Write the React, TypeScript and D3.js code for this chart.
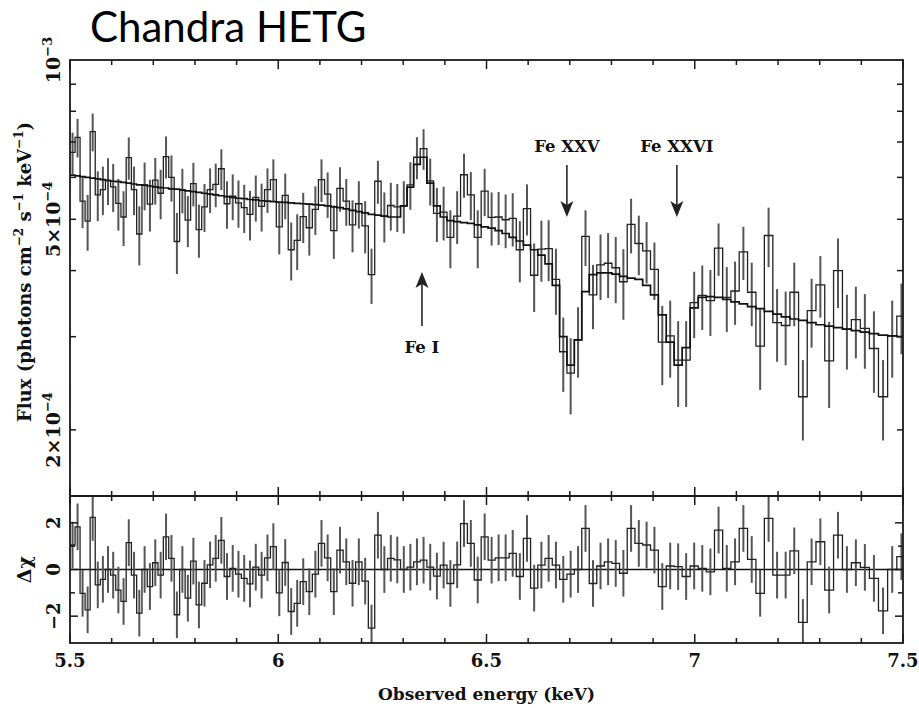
import React from 'react';
import * as d3 from 'd3';

// Spectral binning: constant wavelength bins (Angstrom), converted to keV
const HC = 12.3984;
const LAMBDA_START = 2.2542;
const LAMBDA_BIN = 0.0049;
const N_BINS = 123;

// Observed flux per bin (units of 1e-4 photons cm^-2 s^-1 keV^-1)
const flux = [
  6.69, 7.14, 5.41, 4.96, 7.32, 5.56, 5.69, 5.92, 5.76, 5.36,
  5.05, 6.54, 5.69, 4.69, 5.80, 5.34, 5.93, 5.60, 6.57, 6.00,
  4.54, 5.68, 4.98, 5.84, 4.78, 5.28, 5.69, 5.82, 6.23, 5.35,
  5.53, 5.37, 5.26, 5.11, 5.50, 5.29, 5.69, 5.94, 4.84, 5.55,
  4.38, 4.56, 5.06, 4.82, 5.22, 5.94, 5.58, 4.76, 5.72, 5.41,
  4.88, 5.35, 4.86, 3.93, 5.90, 5.07, 5.31, 5.28, 5.30, 5.81,
  6.55, 6.80, 5.91, 5.13, 5.16, 4.62, 5.07, 6.07, 5.56, 4.62,
  5.65, 5.04, 5.05, 4.99, 5.02, 4.38, 5.24, 3.92, 4.39, 4.40,
  3.85, 2.81, 2.56, 2.96, 4.64, 3.60, 4.10, 4.13, 4.05, 3.81,
  4.89, 4.50, 4.36, 4.02, 2.93, 3.01, 2.71, 2.71, 3.48, 3.59,
  3.51, 4.41, 3.56, 3.66, 4.34, 3.64, 2.88, 4.66, 3.19, 3.15,
  3.64, 2.31, 3.36, 3.76, 2.70, 4.00, 3.10, 3.23, 3.11, 2.85,
  2.31, 3.01, 3.28,
];

// 1-sigma flux errors (same units)
const fluxErr = [
  0.60, 0.60, 0.60, 0.60, 0.60, 0.60, 0.60, 0.60, 0.60, 0.60,
  0.60, 0.60, 0.60, 0.60, 0.60, 0.60, 0.60, 0.60, 0.60, 0.60,
  0.60, 0.55, 0.55, 0.55, 0.55, 0.55, 0.55, 0.55, 0.55, 0.55,
  0.55, 0.55, 0.55, 0.55, 0.55, 0.55, 0.55, 0.55, 0.55, 0.55,
  0.55, 0.55, 0.55, 0.55, 0.55, 0.55, 0.55, 0.55, 0.55, 0.55,
  0.55, 0.55, 0.55, 0.47, 0.55, 0.55, 0.55, 0.55, 0.60, 0.60,
  0.60, 0.60, 0.60, 0.60, 0.60, 0.58, 0.58, 0.58, 0.58, 0.58,
  0.58, 0.58, 0.58, 0.58, 0.58, 0.58, 0.58, 0.58, 0.58, 0.58,
  0.55, 0.45, 0.42, 0.45, 0.56, 0.50, 0.58, 0.58, 0.58, 0.58,
  0.58, 0.58, 0.58, 0.50, 0.50, 0.50, 0.50, 0.50, 0.50, 0.50,
  0.50, 0.50, 0.50, 0.50, 0.50, 0.50, 0.50, 0.60, 0.50, 0.50,
  0.50, 0.40, 0.50, 0.50, 0.50, 0.60, 0.50, 0.50, 0.50, 0.50,
  0.40, 0.50, 0.50,
];

// Best-fit model per bin (same units)
const model = [
  6.06, 6.04, 6.02, 6.00, 5.98, 5.96, 5.94, 5.92, 5.90, 5.89,
  5.87, 5.85, 5.83, 5.81, 5.80, 5.78, 5.76, 5.74, 5.73, 5.71,
  5.70, 5.68, 5.66, 5.64, 5.62, 5.60, 5.58, 5.56, 5.54, 5.52,
  5.50, 5.48, 5.47, 5.45, 5.44, 5.42, 5.41, 5.40, 5.39, 5.38,
  5.37, 5.36, 5.35, 5.34, 5.33, 5.32, 5.30, 5.28, 5.26, 5.23,
  5.20, 5.17, 5.14, 5.11, 5.09, 5.07, 5.05, 5.05, 5.30, 5.75,
  6.35, 6.55, 5.85, 5.30, 5.05, 4.97, 4.95, 4.93, 4.91, 4.88,
  4.84, 4.81, 4.76, 4.70, 4.62, 4.55, 4.47, 4.38, 4.28, 4.12,
  3.75, 3.00, 2.65, 2.96, 3.65, 3.93, 3.96, 3.96, 3.94, 3.90,
  3.87, 3.85, 3.75, 3.60, 3.30, 2.93, 2.65, 2.86, 3.40, 3.56,
  3.57, 3.56, 3.53, 3.49, 3.46, 3.42, 3.39, 3.35, 3.31, 3.27,
  3.24, 3.22, 3.19, 3.16, 3.14, 3.12, 3.10, 3.08, 3.06, 3.04,
  3.02, 3.01, 3.00,
];

// Residuals (delta chi) per bin
const resid = [
  1.05, 1.83, -1.02, -1.73, 2.23, -0.66, -0.42, 0.00, -0.24, -0.88,
  -1.37, 1.15, -0.24, -1.87, 0.00, -0.73, 0.29, -0.24, 1.40, 0.48,
  -1.94, 0.00, -1.23, 0.36, -1.52, -0.59, 0.20, 0.48, 1.25, -0.30,
  0.05, -0.20, -0.38, -0.62, 0.10, -0.24, 0.50, 0.98, -1.00, 0.30,
  -1.80, -1.45, -0.52, -0.95, -0.20, 1.12, 0.50, -0.95, 0.83, 0.33,
  -0.59, 0.33, -0.50, -2.51, 1.47, 0.00, 0.48, 0.41, 0.00, 0.10,
  0.33, 0.40, 0.10, -0.28, 0.19, -0.60, 0.20, 1.97, 1.12, -0.45,
  1.40, 0.40, 0.50, 0.50, 0.69, -0.30, 1.33, -0.80, 0.19, 0.48,
  0.19, -0.42, -0.20, 0.00, 1.76, -0.60, 0.15, 0.33, 0.26, -0.16,
  1.76, 1.12, 1.05, 0.83, -0.73, 0.15, 0.12, -0.30, 0.15, 0.05,
  -0.10, 1.69, 0.05, 0.33, 1.76, 0.43, -1.02, 2.19, -0.24, -0.24,
  0.80, -2.27, 0.33, 1.19, -0.88, 1.47, 0.00, 0.29, 0.09, -0.38,
  -1.77, 0.00, 0.55,
];

const xTickValues = [5.5, 6, 6.5, 7, 7.5];
const xTickLabels = ['5.5', '6', '6.5', '7', '7.5'];
const yMinorValues = [2, 3, 4, 5, 6, 7, 8, 9]; // x 1e-4
const yLabelTicks = [
  { v: 10, base: '10', exp: '\u22123' },
  { v: 5, base: '5\u00d710', exp: '\u22124' },
  { v: 2, base: '2\u00d710', exp: '\u22124' },
];
const residTicks = [-2, -1, 0, 1, 2];
const residLabels = [
  { v: 2, t: '2' },
  { v: 0, t: '0' },
  { v: -2, t: '\u22122' },
];
const lines = [
  { name: 'Fe I', energy: 6.345, dir: 'up' },
  { name: 'Fe XXV', energy: 6.693, dir: 'down' },
  { name: 'Fe XXVI', energy: 6.957, dir: 'down' },
];

const FONT = "'DejaVu Serif', serif";

export default function App() {
  const W = 919;
  const H = 708;
  const left = 70, right = 903, top = 60, mid = 496, bottom = 643;

  const x = d3.scaleLinear().domain([5.5, 7.5]).range([left, right]);
  const y = d3.scaleLog().domain([1.5e-4, 1e-3]).range([mid, top]);
  const yF = (v: number) => y(v * 1e-4);
  const yr = d3.scaleLinear().domain([-3.15, 3.15]).range([bottom, mid]);

  const edges = d3.range(N_BINS + 1).map((k) => HC / (LAMBDA_START - LAMBDA_BIN * k));
  const centers = d3.range(N_BINS).map((i) => (edges[i] + edges[i + 1]) / 2);

  const stepPath = (vals: number[], ys: (v: number) => number) => {
    let d = `M${x(edges[0])},${ys(vals[0])}`;
    for (let i = 0; i < vals.length; i++) {
      d += `H${x(edges[i + 1])}`;
      if (i < vals.length - 1) d += `V${ys(vals[i + 1])}`;
    }
    return d;
  };

  const minorX = d3.range(0, 21).map((i) => 5.5 + i * 0.1);
  const frameColor = '#1a1a1a';
  const errColor = '#555';

  const xTicks = (yEdge: number, dir: number) =>
    minorX.map((v, i) => {
      const major = i % 5 === 0;
      const len = major ? 9 : 5;
      return (
        <line key={`${yEdge}-${dir}-${i}`} x1={x(v)} x2={x(v)} y1={yEdge} y2={yEdge + dir * len}
          stroke={frameColor} strokeWidth={1.5} />
      );
    });

  const arrow = (ax: number, tipY: number, tailY: number) => {
    const dir = tipY > tailY ? 1 : -1; // 1 = pointing down
    const headLen = 16;
    const baseY = tipY - dir * headLen;
    const notchY = tipY - dir * (headLen - 4);
    return (
      <g>
        <line x1={ax} x2={ax} y1={tailY} y2={notchY} stroke="#333" strokeWidth={1.7} />
        <path d={`M${ax},${tipY}L${ax - 6.5},${baseY}L${ax},${notchY}L${ax + 6.5},${baseY}Z`} fill="#222" />
      </g>
    );
  };

  return (
    <svg width={W} height={H} style={{ position: 'absolute', left: 0, top: 0, background: '#fff' }}
      xmlns="http://www.w3.org/2000/svg">
      <defs>
        <clipPath id="clipMain"><rect x={left} y={top} width={right - left} height={mid - top} /></clipPath>
        <clipPath id="clipRes"><rect x={left} y={mid} width={right - left} height={bottom - mid} /></clipPath>
      </defs>
      <rect x={0} y={0} width={W} height={H} fill="#fff" />

      {/* Title */}
      <text x={90} y={42} fontFamily="Lato, 'Open Sans', sans-serif" fontSize={42} fill="#000">Chandra HETG</text>

      {/* Main panel data */}
      <g clipPath="url(#clipMain)">
        {centers.map((c, i) => (
          <line key={`e${i}`} x1={x(c)} x2={x(c)} y1={yF(flux[i] - fluxErr[i])} y2={yF(flux[i] + fluxErr[i])}
            stroke={errColor} strokeWidth={2} />
        ))}
        <path d={stepPath(flux, yF)} fill="none" stroke="#222" strokeWidth={1.3} />
        <path d={stepPath(model, yF)} fill="none" stroke="#111" strokeWidth={1.7} />
      </g>

      {/* Residual panel */}
      <g clipPath="url(#clipRes)">
        <line x1={left} x2={right} y1={yr(0)} y2={yr(0)} stroke="#111" strokeWidth={1.6} />
        {centers.map((c, i) => (
          <line key={`r${i}`} x1={x(c)} x2={x(c)} y1={yr(resid[i] - 1)} y2={yr(resid[i] + 1)}
            stroke={errColor} strokeWidth={2} />
        ))}
        <path d={stepPath(resid, yr)} fill="none" stroke="#222" strokeWidth={1.3} />
      </g>

      {/* Frames */}
      <rect x={left} y={top} width={right - left} height={mid - top} fill="none" stroke={frameColor} strokeWidth={1.8} />
      <rect x={left} y={mid} width={right - left} height={bottom - mid} fill="none" stroke={frameColor} strokeWidth={1.8} />

      {/* X ticks */}
      {xTicks(top, 1)}
      {xTicks(mid, -1)}
      {xTicks(mid, 1)}
      {xTicks(bottom, -1)}

      {/* Y ticks main (log) */}
      {yMinorValues.map((v) => (
        <g key={`ym${v}`}>
          <line x1={left} x2={left + 6} y1={yF(v)} y2={yF(v)} stroke={frameColor} strokeWidth={1.5} />
          <line x1={right} x2={right - 6} y1={yF(v)} y2={yF(v)} stroke={frameColor} strokeWidth={1.5} />
        </g>
      ))}

      {/* Residual ticks */}
      {residTicks.map((v) => {
        const len = v % 2 === 0 ? 8 : 5;
        return (
          <g key={`yr${v}`}>
            <line x1={left} x2={left + len} y1={yr(v)} y2={yr(v)} stroke={frameColor} strokeWidth={1.5} />
            <line x1={right} x2={right - len} y1={yr(v)} y2={yr(v)} stroke={frameColor} strokeWidth={1.5} />
          </g>
        );
      })}

      {/* X tick labels */}
      {xTickValues.map((v, i) => (
        <text key={`xl${i}`} x={x(v)} y={667} textAnchor="middle" fontFamily={FONT} fontWeight="bold"
          fontSize={18} fill="#111">{xTickLabels[i]}</text>
      ))}

      {/* Y tick labels, rotated */}
      {yLabelTicks.map((t) => (
        <text key={`yl${t.v}`} transform={`translate(60,${yF(t.v)}) rotate(-90)`} textAnchor="middle"
          fontFamily={FONT} fontWeight="bold" fontSize={19} fill="#111">
          {t.base}
          <tspan dy={-8} fontSize={13}>{t.exp}</tspan>
        </text>
      ))}
      {residLabels.map((t) => (
        <text key={`rl${t.v}`} transform={`translate(60,${yr(t.v)}) rotate(-90)`} textAnchor="middle"
          fontFamily={FONT} fontWeight="bold" fontSize={18} fill="#111">{t.t}</text>
      ))}

      {/* Axis titles */}
      <text x={(left + right) / 2} y={700} textAnchor="middle" fontFamily={FONT} fontWeight="bold" fontSize={17}
        fill="#111">Observed energy (keV)</text>
      <text transform={`translate(31,272) rotate(-90)`} textAnchor="middle" fontFamily={FONT}
        fontWeight="bold" fontSize={18} fill="#111">
        Flux (photons cm<tspan dy={-8} fontSize={12}>{'\u22122'}</tspan>
        <tspan dy={8}> s</tspan><tspan dy={-8} fontSize={12}>{'\u22121'}</tspan>
        <tspan dy={8}> keV</tspan><tspan dy={-8} fontSize={12}>{'\u22121'}</tspan>
        <tspan dy={8}>)</tspan>
      </text>
      <text transform={`translate(31,${yr(0)}) rotate(-90)`} textAnchor="middle" fontFamily={FONT}
        fontWeight="bold" fontSize={19} fill="#111">{'\u0394\u03c7'}</text>

      {/* Line annotations */}
      {lines.map((l) => {
        const ax = x(l.energy);
        if (l.dir === 'up') {
          return (
            <g key={l.name}>
              {arrow(ax, 272, 326)}
              <text x={ax} y={353} textAnchor="middle" fontFamily={FONT} fontWeight="bold" fontSize={16.5}
                fill="#111">{l.name}</text>
            </g>
          );
        }
        return (
          <g key={l.name}>
            {arrow(ax, 217, 165)}
            <text x={ax} y={152} textAnchor="middle" fontFamily={FONT} fontWeight="bold" fontSize={16.5}
              fill="#111">{l.name}</text>
          </g>
        );
      })}
    </svg>
  );
}
